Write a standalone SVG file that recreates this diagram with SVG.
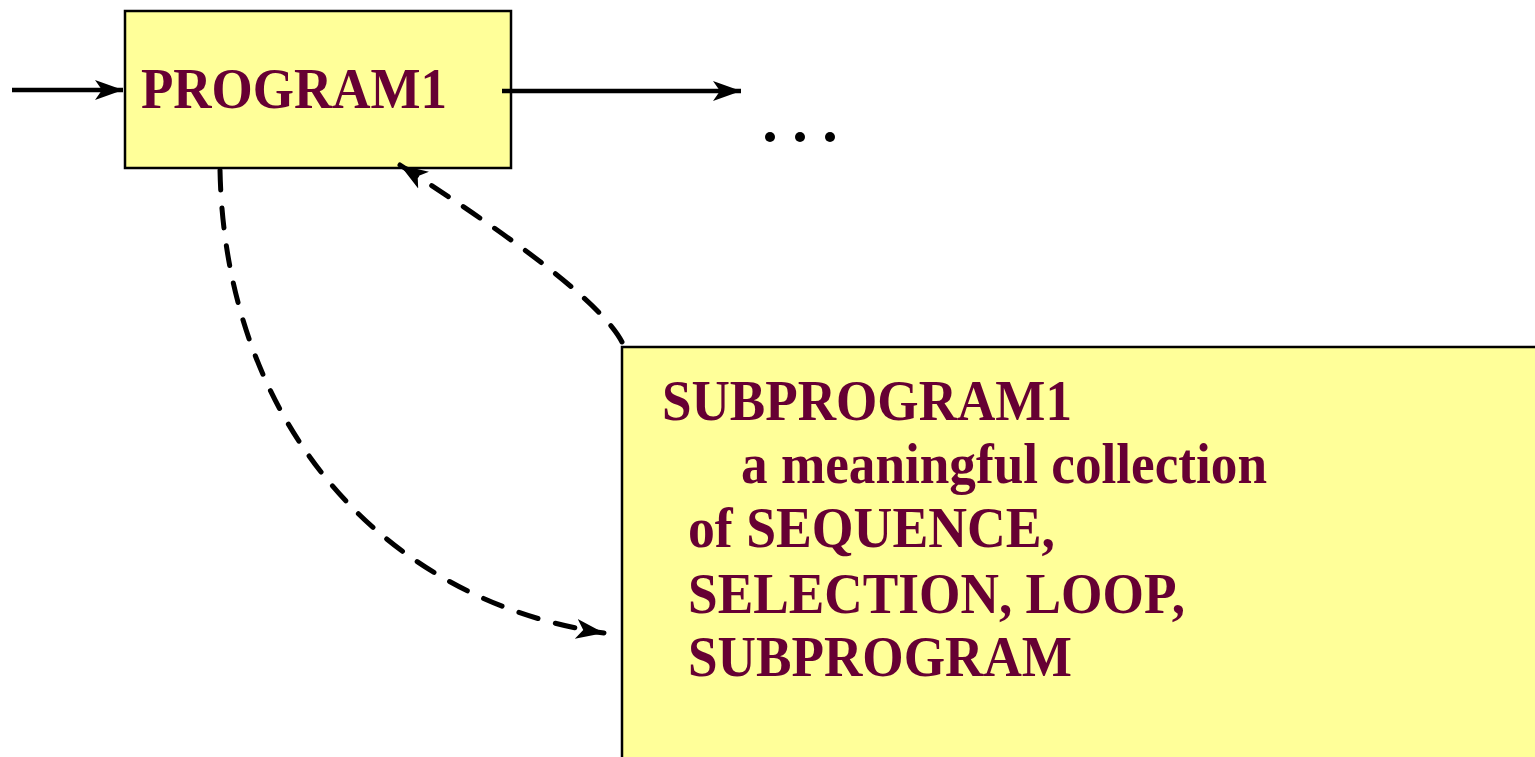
<svg xmlns="http://www.w3.org/2000/svg" width="1535" height="757" viewBox="0 0 1535 757">
<style>
.box{fill:#ffff99;stroke:#000;stroke-width:2.5}
.t{font-family:"Liberation Serif","Times New Roman",serif;font-weight:bold;font-size:57px;fill:#660033}
.solid{fill:none;stroke:#000;stroke-width:4.5}
.dash{fill:none;stroke:#000;stroke-width:5;stroke-dasharray:20 18;stroke-linecap:round}
</style>
<defs>
<marker id="ah" markerUnits="userSpaceOnUse" markerWidth="34" markerHeight="26" refX="28" refY="12" orient="auto">
<path d="M0,2 L28,12 L0,22 L7,12 Z" fill="#000"/>
</marker>
</defs>
<g id="program1">
<rect class="box" x="125" y="11" width="386" height="157"/>
<text class="t" x="141" y="108" textLength="306" lengthAdjust="spacingAndGlyphs">PROGRAM1</text>
</g>
<g id="subprogram1">
<rect class="box" x="622" y="347" width="930" height="430"/>
<text class="t" x="662" y="420" textLength="410" lengthAdjust="spacingAndGlyphs">SUBPROGRAM1</text>
<text class="t" x="741" y="483" textLength="526" lengthAdjust="spacingAndGlyphs">a meaningful collection</text>
<text class="t" x="688" y="547" textLength="367" lengthAdjust="spacingAndGlyphs">of SEQUENCE,</text>
<text class="t" x="688" y="613" textLength="497" lengthAdjust="spacingAndGlyphs">SELECTION, LOOP,</text>
<text class="t" x="688" y="676" textLength="384" lengthAdjust="spacingAndGlyphs">SUBPROGRAM</text>
</g>
<g id="ellipsis">
<circle cx="770" cy="137" r="5" fill="#000"/>
<circle cx="800" cy="137" r="5" fill="#000"/>
<circle cx="830" cy="137" r="5" fill="#000"/>
</g>
<g id="connectors">
<path class="solid" d="M12,90 L123,90" marker-end="url(#ah)"/>
<path class="solid" d="M502,91 L741,91" marker-end="url(#ah)"/>
<path class="dash" d="M220,170 C225,420 380,600 604,633" marker-end="url(#ah)"/>
<path class="dash" d="M622,342 Q595,290 400,165" marker-end="url(#ah)"/>
</g>
</svg>
